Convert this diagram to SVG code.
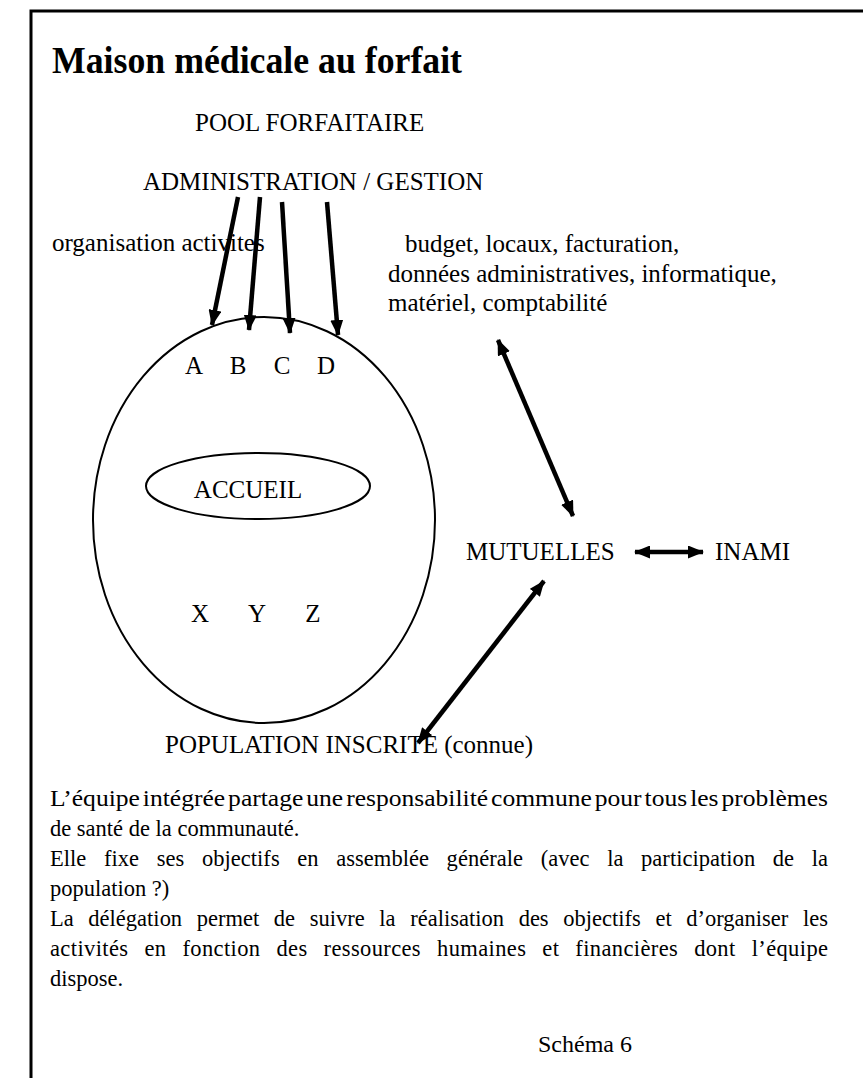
<svg xmlns="http://www.w3.org/2000/svg" width="863" height="1078" viewBox="0 0 863 1078">
  <style>
    text { font-family: "Liberation Serif", "Times New Roman", serif; fill: #000; }
    .title { font-size: 38px; font-weight: bold; }
    .lbl { font-size: 25px; }
    .body { font-size: 22.5px; }
    .arrow { stroke: #000; stroke-width: 4.5; fill: none; }
    .thin { stroke: #000; stroke-width: 2; fill: none; }
  </style>
  <defs>
    <marker id="head" viewBox="0 0 16 13" refX="15" refY="6.5" markerWidth="16" markerHeight="13" markerUnits="userSpaceOnUse" orient="auto-start-reverse">
      <path d="M0,0 L16,6.5 L0,13 z" fill="#000"/>
    </marker>
  </defs>

  <rect width="863" height="1078" fill="#fff"/>

  <!-- page frame: top and left rules only -->
  <path d="M31,1078 L31,11 L863,11" fill="none" stroke="#000" stroke-width="3"/>

  <text class="title" x="52" y="73" textLength="410" lengthAdjust="spacingAndGlyphs">Maison médicale au forfait</text>

  <g id="pool">
    <text class="lbl" x="195" y="131">POOL FORFAITAIRE</text>
  </g>
  <g id="administration">
    <text class="lbl" x="143" y="190">ADMINISTRATION / GESTION</text>
  </g>
  <g id="organisation">
    <text class="lbl" x="52" y="251">organisation activites</text>
  </g>
  <g id="gestion-taches">
    <text class="lbl" x="405" y="252">budget, locaux, facturation,</text>
    <text class="lbl" x="388" y="282">données administratives, informatique,</text>
    <text class="lbl" x="388" y="311">matériel, comptabilité</text>
  </g>

  <g id="equipe">
    <ellipse class="thin" cx="264" cy="520" rx="171" ry="203"/>
    <text class="lbl" x="194" y="374" text-anchor="middle">A</text>
    <text class="lbl" x="238" y="374" text-anchor="middle">B</text>
    <text class="lbl" x="282" y="374" text-anchor="middle">C</text>
    <text class="lbl" x="326" y="374" text-anchor="middle">D</text>
    <text class="lbl" x="200" y="622" text-anchor="middle">X</text>
    <text class="lbl" x="257" y="622" text-anchor="middle">Y</text>
    <text class="lbl" x="313" y="622" text-anchor="middle">Z</text>
  </g>
  <g id="accueil">
    <ellipse class="thin" cx="258" cy="486" rx="112" ry="33"/>
    <text class="lbl" x="248" y="498" text-anchor="middle">ACCUEIL</text>
  </g>

  <g id="mutuelles">
    <text class="lbl" x="466" y="560">MUTUELLES</text>
  </g>
  <g id="inami">
    <text class="lbl" x="715" y="560">INAMI</text>
  </g>
  <g id="population">
    <text class="lbl" x="165" y="753">POPULATION INSCRITE (connue)</text>
  </g>

  <g id="connectors">
    <line class="arrow" x1="238" y1="197" x2="212" y2="325" marker-end="url(#head)"/>
    <line class="arrow" x1="260" y1="197" x2="249" y2="330" marker-end="url(#head)"/>
    <line class="arrow" x1="282" y1="202" x2="290" y2="333" marker-end="url(#head)"/>
    <line class="arrow" x1="327" y1="202" x2="338" y2="335" marker-end="url(#head)"/>
    <line class="arrow" x1="498" y1="340" x2="573" y2="516" marker-start="url(#head)" marker-end="url(#head)"/>
    <line class="arrow" x1="635" y1="552" x2="703" y2="552" stroke-width="3.5" marker-start="url(#head)" marker-end="url(#head)"/>
    <line class="arrow" x1="544" y1="581" x2="418" y2="743" marker-start="url(#head)" marker-end="url(#head)"/>
  </g>

  <!-- justified paragraph: extra width goes into the word gaps -->
  <g id="commentaire">
    <text class="body" x="50" y="806" word-spacing="-3" textLength="778" lengthAdjust="spacingAndGlyphs">L’équipe intégrée partage une responsabilité commune pour tous les problèmes</text>
    <text class="body" x="50" y="836">de santé de la communauté.</text>
    <text class="body" x="50" y="866" word-spacing="12" textLength="778" lengthAdjust="spacing">Elle fixe ses objectifs en assemblée générale (avec la participation de la</text>
    <text class="body" x="50" y="896">population ?)</text>
    <text class="body" x="50" y="926" word-spacing="9" textLength="778" lengthAdjust="spacing">La délégation permet de suivre la réalisation des objectifs et d’organiser les</text>
    <text class="body" x="50" y="956" word-spacing="10" textLength="778" lengthAdjust="spacing">activités en fonction des ressources humaines et financières dont l’équipe</text>
    <text class="body" x="50" y="986">dispose.</text>
    <text class="body" x="538" y="1052" style="font-size:24px">Schéma 6</text>
  </g>
</svg>
